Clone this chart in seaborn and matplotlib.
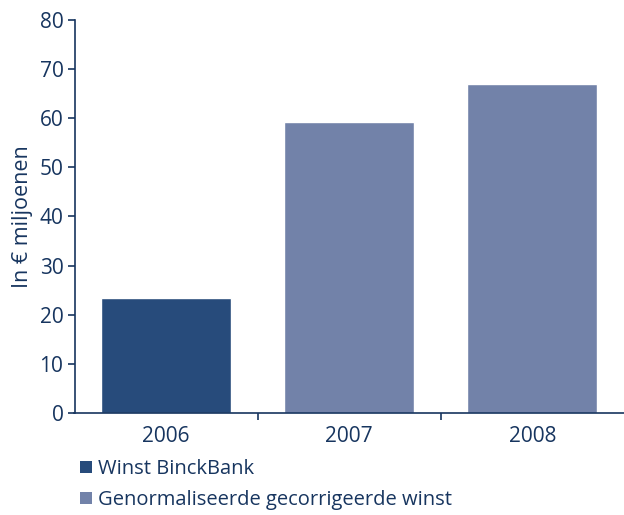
import matplotlib
matplotlib.use("Agg")
import matplotlib.pyplot as plt
from matplotlib.patches import Patch
import seaborn as sns
import pandas as pd

years = ["2006", "2007", "2008"]
values = [23.4, 59.3, 67.0]
series = ["Winst BinckBank",
          "Genormaliseerde gecorrigeerde winst",
          "Genormaliseerde gecorrigeerde winst"]
legend_labels = ["Winst BinckBank", "Genormaliseerde gecorrigeerde winst"]
y_ticks = [0, 10, 20, 30, 40, 50, 60, 70, 80]

dark_blue = "#274b7b"
light_blue = "#7282a9"
text_color = "#17355f"

sns.set_theme(style="white")
plt.rcParams["font.family"] = ["Open Sans", "DejaVu Sans"]

df = pd.DataFrame({"jaar": years, "waarde": values, "reeks": series})

fig = plt.figure(figsize=(6.24, 5.15), dpi=100)
ax = fig.add_axes([74.5 / 624, 102 / 515, 1 - 74.5 / 624, 393 / 515])

sns.barplot(data=df, x="jaar", y="waarde", hue="reeks", dodge=False,
            palette={legend_labels[0]: dark_blue, legend_labels[1]: light_blue},
            width=0.71, saturation=1, legend=False, ax=ax)

ax.set_xlim(-0.5, 2.5)
ax.set_ylim(0, 80)
ax.set_yticks(y_ticks)
ax.set_yticklabels([str(t) for t in y_ticks])
ax.set_xticks([0.5, 1.5], minor=False)
ax.set_xticks([0, 1, 2], minor=True)
ax.set_xticklabels([])
ax.set_xticklabels(years, minor=True)
ax.tick_params(axis="x", which="minor", length=0, labelsize=15,
               labelcolor=text_color, pad=9)
ax.tick_params(axis="x", which="major", length=5, width=1.2,
               color=text_color, direction="out", bottom=True)
ax.tick_params(axis="y", length=5, width=1.2, color=text_color,
               direction="out", left=True, labelsize=15,
               labelcolor=text_color, pad=3)

for side in ["top", "right"]:
    ax.spines[side].set_visible(False)
for side in ["left", "bottom"]:
    ax.spines[side].set_color(text_color)
    ax.spines[side].set_linewidth(1.2)

ax.set_xlabel("")
ax.set_ylabel("In € miljoenen", fontsize=15.5, color=text_color, labelpad=5)

handles = [Patch(facecolor=dark_blue, edgecolor="none"),
           Patch(facecolor=light_blue, edgecolor="none")]
fig.legend(handles, legend_labels, loc="upper left",
           bbox_to_anchor=(80 / 624, 1 - 459 / 515), frameon=False,
           fontsize=14.5, labelcolor=text_color, handlelength=0.6,
           handleheight=0.6, handletextpad=0.3, labelspacing=0.55,
           borderaxespad=0, borderpad=0)

fig.savefig("out.png", dpi=100)
